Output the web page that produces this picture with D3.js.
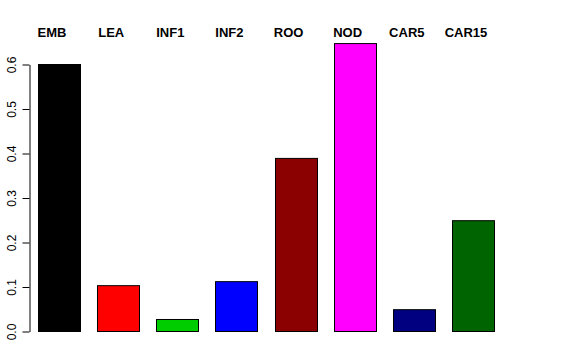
<!DOCTYPE html>
<html>
<head>
<meta charset="utf-8">
<script src="https://cdn.jsdelivr.net/npm/d3@7"></script>
<style>
  body { margin: 0; background: #fff; }
  svg { display: block; font-family: "Liberation Sans", Arial, Helvetica, sans-serif; }
</style>
</head>
<body>
<div id="chart"></div>
<script>
const Width = 576;
const Height = 360;

// data
const categories = ['EMB', 'LEA', 'INF1', 'INF2', 'ROO', 'NOD', 'CAR5', 'CAR15'];
const values = [0.600, 0.103, 0.027, 0.112, 0.389, 0.647, 0.049, 0.249];
const barColors = ['#000000', '#ff0000', '#00cd00', '#0000ff', '#8b0000', '#ff00ff', '#000080', '#006400'];
const yTicks = [0, 0.1, 0.2, 0.3, 0.4, 0.5, 0.6];

const svg = d3.select('#chart').
append('svg').
attr('width', Width).
attr('height', Height);

//scales
const x = d3.scaleBand().
domain(categories).
range([29.5, 502.5]).
paddingInner(0.288).
paddingOuter(0.144);

const y = d3.scaleLinear().
domain([0, 0.6]).
range([331.5, 64.5]);

//bars
svg.selectAll('.bar').
data(categories).
enter().
append('rect').
attr('class', 'bar').
attr('x', d => Math.round(x(d)) + 0.5).
attr('y', (d, i) => y(values[i])).
attr('width', Math.round(x.bandwidth())).
attr('height', (d, i) => y(0) - y(values[i])).
attr('fill', (d, i) => barColors[i]).
attr('stroke', '#000').
attr('stroke-width', 1);

//y axis
const yAxis = svg.append('g').
attr('transform', 'translate(29.5,0)').
call(d3.axisLeft(y).tickValues(yTicks).tickFormat(d3.format('.1f')).tickSize(7).tickSizeOuter(0));

yAxis.select('.domain').attr('stroke', '#000');
yAxis.selectAll('.tick line').attr('stroke', '#000');
yAxis.selectAll('.tick text').
attr('x', null).
attr('dy', null).
attr('transform', 'translate(-14,0) rotate(-90)').
attr('text-anchor', 'middle').
attr('fill', '#000').
style('font-size', '12px').
style('font-family', '"Liberation Sans", Arial, sans-serif');

//category labels along the top
svg.selectAll('.cat').
data(categories).
enter().
append('text').
attr('class', 'cat').
attr('x', d => x(d) + x.bandwidth() / 2 - 7).
attr('y', 37).
attr('text-anchor', 'middle').
style('font-size', '13px').
style('font-weight', 'bold').
text(d => d);
</script>
</body>
</html>
